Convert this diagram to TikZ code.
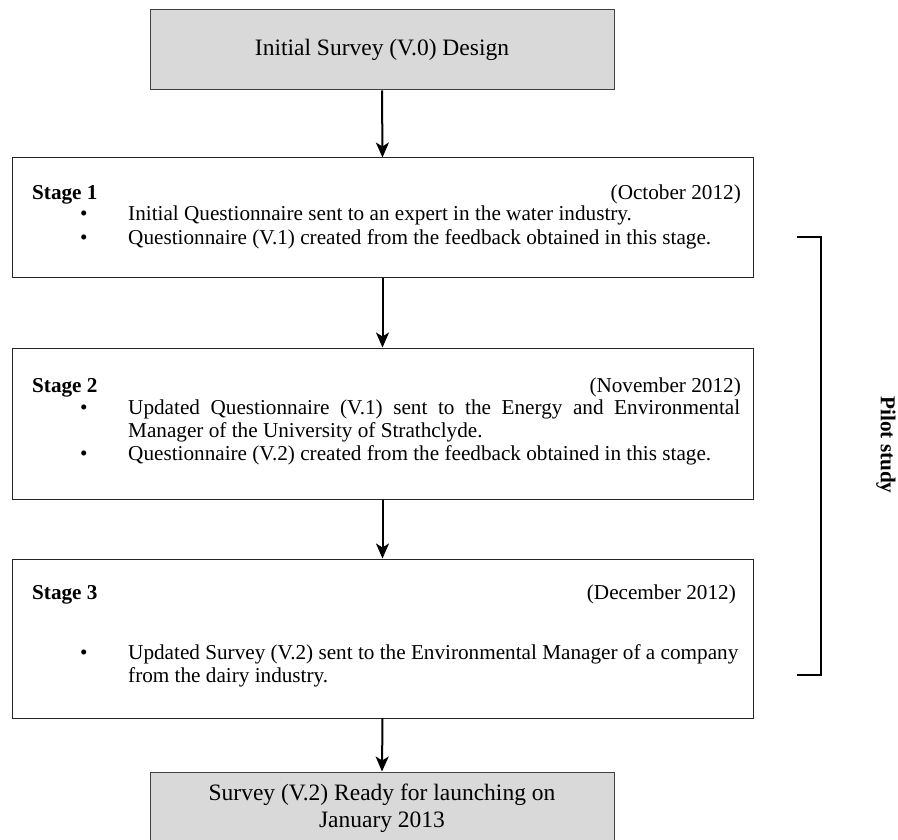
\documentclass[tikz,border=0pt]{standalone}
\usepackage{fontspec}
\setmainfont{Liberation Serif}
\usetikzlibrary{arrows.meta}
\definecolor{boxgray}{HTML}{D9D9D9}
\begin{document}
\begin{tikzpicture}[x=1pt,y=-1pt,
  bodytext/.style={font=\fontsize{21.2}{25}\selectfont},
  bigtext/.style={font=\fontsize{23.5}{28}\selectfont},
  endbox/.style={draw=black!75,line width=1pt,fill=boxgray,minimum width=464pt,inner sep=0pt},
  stagebox/.style={draw=black!85,line width=1pt,fill=white,minimum width=741pt,inner sep=0pt},
  flowarrow/.style={line width=2pt,-{Stealth[length=15pt,width=13pt,inset=4pt]}},
  txt/.style={bodytext,inner sep=0pt,anchor=base west},
  datetxt/.style={bodytext,inner sep=0pt,anchor=base east},
  headtxt/.style={txt,font=\fontsize{21.2}{25}\selectfont\bfseries},
  bracketline/.style={line width=2pt}]
\useasboundingbox (0,0) rectangle (898,840);
\clip (0,0) rectangle (898,840);

% start and end boxes
\node[endbox,minimum height=80pt] (design) at (382,50) {};
\node[bigtext,inner sep=0pt] (designtxt) at (382,50) {Initial Survey (V.0) Design};

\node[endbox,minimum height=78pt] (launch) at (382,811) {};
\node[bigtext,inner sep=0pt,anchor=base] (launch1) at (382,800) {Survey (V.2) Ready for launching on};
\node[bigtext,inner sep=0pt,anchor=base] (launch2) at (382,827) {January 2013};

% stage boxes
\node[stagebox,minimum height=119pt] (s1) at (382.5,217.5) {};
\node[stagebox,minimum height=151pt] (s2) at (382.5,423.5) {};
\node[stagebox,minimum height=159pt] (s3) at (382.5,638.5) {};

% connectors
\draw[flowarrow] (design.south) -- (s1.north);
\draw[flowarrow] (s1.south) -- (s2.north);
\draw[flowarrow] (s2.south) -- (s3.north);
\draw[flowarrow] (s3.south) -- (launch.north);

% stage 1
\node[headtxt] (s1h) at (32,200) {Stage 1};
\node[datetxt] (s1d) at (741,200) {(October 2012)};
\node[txt] (s1b1) at (80,221) {\textbullet};
\node[txt] (s1l1) at (128,221) {Initial Questionnaire sent to an expert in the water industry.};
\node[txt] (s1b2) at (80,244) {\textbullet};
\node[txt] (s1l2) at (128,244) {Questionnaire (V.1) created from the feedback obtained in this stage.};

% stage 2
\node[headtxt] (s2h) at (32,392) {Stage 2};
\node[datetxt] (s2d) at (741,392) {(November 2012)};
\node[txt] (s2b1) at (80,414) {\textbullet};
\node[txt] (s2l1) at (128,414) {\makebox[612pt][s]{Updated Questionnaire (V.1) sent to the Energy and Environmental}};
\node[txt] (s2l2) at (128,437) {Manager of the University of Strathclyde.};
\node[txt] (s2b2) at (80,460) {\textbullet};
\node[txt] (s2l3) at (128,460) {Questionnaire (V.2) created from the feedback obtained in this stage.};

% stage 3
\node[headtxt] (s3h) at (32,599) {Stage 3};
\node[datetxt] (s3d) at (736,599) {(December 2012)};
\node[txt] (s3b1) at (80,659) {\textbullet};
\node[txt] (s3l1) at (128,659) {Updated Survey (V.2) sent to the Environmental Manager of a company};
\node[txt] (s3l2) at (128,682) {from the dairy industry.};

% pilot study bracket
\coordinate (brtop) at (797,237);
\coordinate (brtopr) at (821,237);
\coordinate (brbotr) at (821,675);
\coordinate (brbot) at (797,675);
\draw[bracketline] (brtop) -- (brtopr) -- (brbotr) -- (brbot);
\node[rotate=-90,font=\fontsize{21.2}{25}\selectfont\bfseries,inner sep=0pt] (pilot) at (886,445) {Pilot study};
\end{tikzpicture}
\end{document}
